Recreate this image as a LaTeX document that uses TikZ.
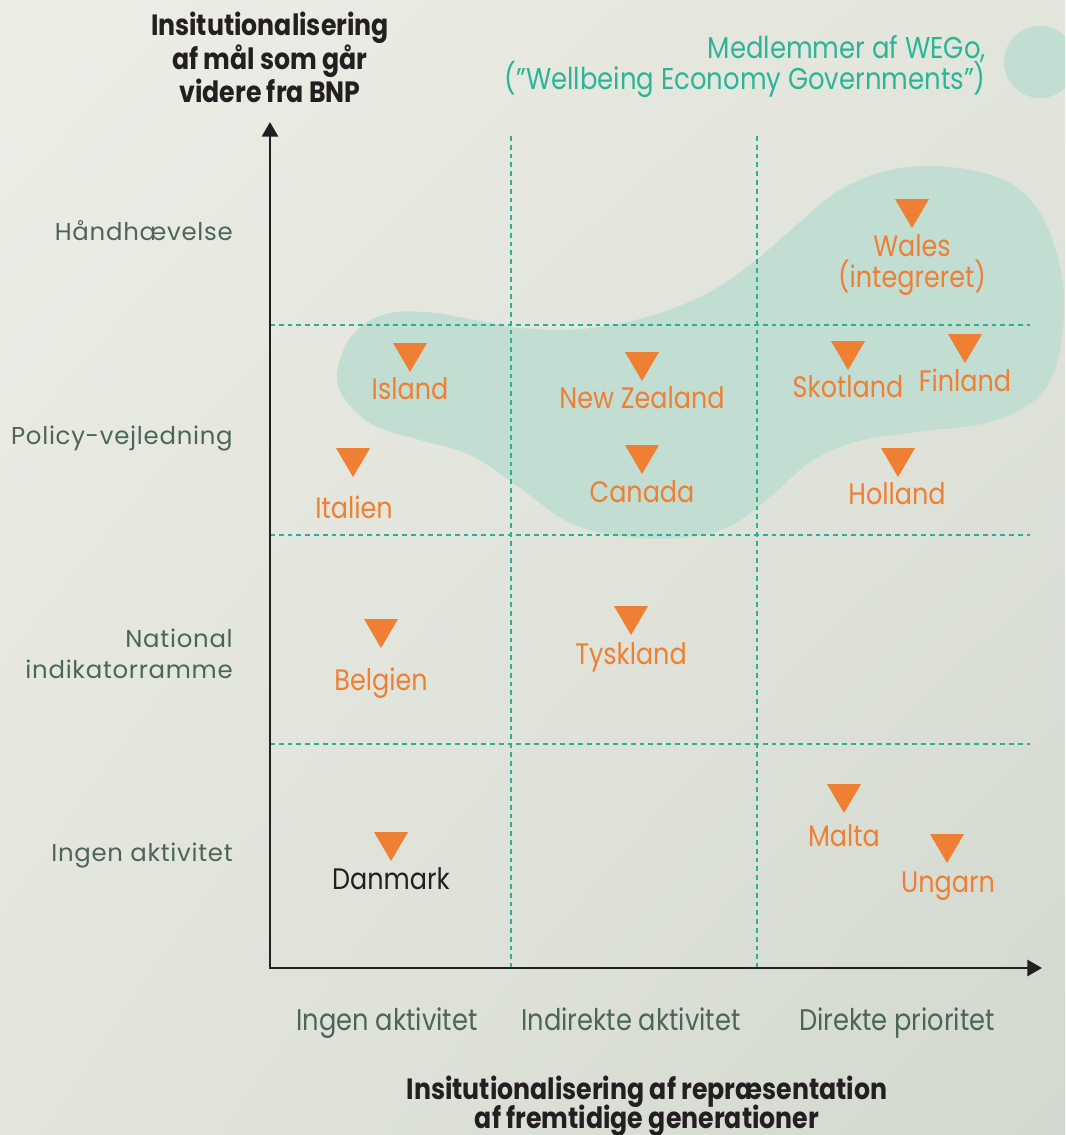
\documentclass[tikz,border=0pt]{standalone}
\usepackage{fontspec}
\setmainfont{Poppins}
\newfontfamily\condfont[FakeStretch=0.86]{Poppins}
\newfontfamily\ylabfont[LetterSpace=3]{Poppins}
\usetikzlibrary{arrows.meta,shadings}
\definecolor{bgA}{HTML}{EDEDE6}
\definecolor{bgB}{HTML}{E2E5DC}
\definecolor{bgC}{HTML}{D3D9CF}
\definecolor{blobc}{HTML}{C2DDD2}
\definecolor{tealdash}{HTML}{26B295}
\definecolor{tealtext}{HTML}{2BB596}
\definecolor{orangec}{HTML}{EE7F33}
\definecolor{labc}{HTML}{4B6657}
\definecolor{titlec}{HTML}{231F20}
\tikzset{
  gridline/.style={tealdash, line width=1.1pt, dash pattern=on 3.6pt off 3pt},
  axisline/.style={titlec, line width=2.2pt},
  clabel/.style={text=orangec, font=\condfont\fontsize{22.2}{26}\selectfont, anchor=mid, inner sep=0pt, yshift=-4.5pt},
  ylab/.style={text=labc, font=\ylabfont\fontsize{18.3}{23}\selectfont, anchor=mid east, inner sep=0pt, align=right, yshift=-3.8pt},
  xlab/.style={text=labc, font=\condfont\fontsize{22.4}{26}\selectfont, anchor=mid, inner sep=0pt, yshift=-3.8pt},
  titletext/.style={text=titlec, font=\condfont\bfseries\fontsize{22}{22.8}\selectfont, align=center, inner sep=0pt},
  btitle/.style={text=titlec, font=\condfont\bfseries\fontsize{22}{22.8}\selectfont, anchor=mid, inner sep=0pt, text depth=0pt, yshift=-4.5pt},
  legendtext/.style={text=tealtext, font=\condfont\fontsize{22.6}{24}\selectfont, anchor=mid east, inner sep=0pt, yshift=-4.5pt},
  pics/downtri/.style={code={\fill[orangec] (-17,0) -- (17,0) -- (0,29) -- cycle;}}
}
\begin{document}
\begin{tikzpicture}[x=0.75pt,y=-0.75pt]
% background
\shade[upper left=bgA, upper right=bgB, lower left=bgB, lower right=bgC] (0,0) rectangle (1065,1135);
\useasboundingbox (0,0) rectangle (1065,1135);
% WEGo region
\fill[blobc] plot[smooth cycle, tension=0.6] coordinates {
 (337,375) (350,338) (382,315) (425,312) (475,320) (520,328) (580,329) (640,319)
 (700,297) (750,265) (800,222) (840,190) (890,170) (950,167) (1010,183) (1045,222)
 (1063,285) (1060,350) (1040,395) (990,422) (915,432) (855,442) (810,462) (770,497)
 (728,527) (680,538) (620,536) (568,522) (520,488) (472,456) (420,440) (375,426) (347,402)};
\begin{scope}
\clip (0,0) rectangle (1065,1135);
\fill[blobc] (1040,62) circle (36);
\end{scope}
% grid
\coordinate (O) at (270,968);
\coordinate (ytop) at (270,122);
\coordinate (xend) at (1042,968);
\foreach \gx in {511,757} \draw[gridline] (\gx,136) -- (\gx,968);
\foreach \gy in {325,535,744} \draw[gridline] (270,\gy) -- (1030,\gy);
% axes
\draw[axisline, {Triangle[length=11pt,width=12pt]}-{Triangle[length=11pt,width=12pt]}, line join=miter] (ytop) -- (O) -- (xend);
% titles
\node[titletext] (ytitle) at (270,57) {Insitutionalisering\\af mål som går\\videre fra BNP};
\node[btitle] (xtitlea) at (647,1090) {Insitutionalisering af repræsentation};
\node[btitle] (xtitleb) at (647,1119) {af fremtidige generationer};
\node[legendtext] (leg1) at (986,49) {Medlemmer af WEGo,};
\node[legendtext] (leg2) at (986,80) {(”Wellbeing Economy Governments”)};
% y labels
\node[ylab] (y4) at (233,232) {Håndhævelse};
\node[ylab] (y3) at (233,436) {Policy-vejledning};
\node[ylab] (y2a) at (233,639) {National};
\node[ylab] (y2b) at (233,670) {indikatorramme};
\node[ylab] (y1) at (233,853) {Ingen aktivitet};
% x labels
\node[xlab] (x1) at (387,1022) {Ingen aktivitet};
\node[xlab] (x2) at (631,1022) {Indirekte aktivitet};
\node[xlab] (x3) at (897,1022) {Direkte prioritet};
% countries
\pic at (912,199) {downtri};
\node[clabel] (wales) at (912,247) {Wales};
\node[clabel] (walesb) at (912,278) {(integreret)};
\pic at (410,343) {downtri};
\node[clabel] (island) at (410,390) {Island};
\pic at (642,352) {downtri};
\node[clabel] (nz) at (642,399) {New Zealand};
\pic at (848,341) {downtri};
\node[clabel] (skotland) at (848,388) {Skotland};
\pic at (965,334) {downtri};
\node[clabel] (finland) at (965,382) {Finland};
\pic at (353,448) {downtri};
\node[clabel] (italien) at (354,509) {Italien};
\pic at (642,445) {downtri};
\node[clabel] (canada) at (642,493) {Canada};
\pic at (898,448) {downtri};
\node[clabel] (holland) at (897,495) {Holland};
\pic at (381,619) {downtri};
\node[clabel] (belgien) at (381,681) {Belgien};
\pic at (631,606) {downtri};
\node[clabel] (tyskland) at (631,655) {Tyskland};
\pic at (391,832) {downtri};
\node[clabel, text=titlec] (danmark) at (391,880) {Danmark};
\pic at (844,784) {downtri};
\node[clabel] (malta) at (844,837) {Malta};
\pic at (947,834) {downtri};
\node[clabel] (ungarn) at (948,883) {Ungarn};
\end{tikzpicture}
\end{document}
